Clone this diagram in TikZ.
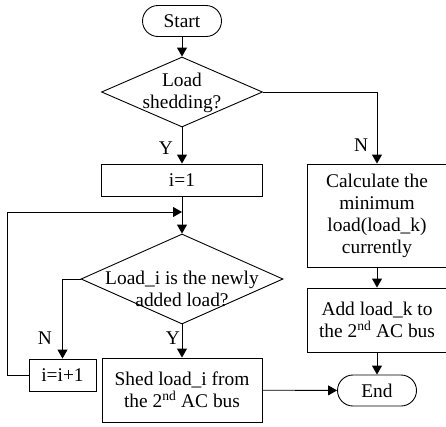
\documentclass[tikz,border=0pt]{standalone}
\usepackage{fontspec}
\setmainfont{Liberation Serif}
\usetikzlibrary{arrows.meta,shapes.geometric}
\begin{document}
\begin{tikzpicture}[x=1pt,y=-1pt,
  every node/.style={font=\fontsize{19.4}{22}\selectfont, inner sep=0pt},
  box/.style={draw, line width=0.9pt, align=center, rectangle},
  term/.style={draw, line width=0.9pt, rectangle, rounded corners=15.5pt, minimum width=79pt, minimum height=31pt},
  dia/.style={draw, line width=0.9pt, diamond},
  arr/.style={line width=0.9pt, -{Triangle[length=9pt,width=10pt]}},
  ln/.style={line width=0.9pt}]
\useasboundingbox (0,0) rectangle (446,426);

\node[term] (start) at (182,21) {Start};
\node[dia, minimum width=161pt, minimum height=70pt] (d1) at (182,92) {};
\node[align=center] (t1) at (182,92.5) {Load\\shedding?};
\node[box, minimum width=161pt, minimum height=32pt] (i1) at (182,180) {i=1};
\node[box, minimum width=139pt, minimum height=103pt] (calc) at (377,215.5) {Calculate the\\minimum\\load(load\_k)\\currently};
\node[box, minimum width=139pt, minimum height=64pt] (add) at (377,320) {Add load\_k to\\the 2\textsuperscript{nd} AC bus};
\node[term] (end) at (377,390.5) {End};
\node[dia, minimum width=202pt, minimum height=90pt] (d2) at (182,279) {};
\node[align=center] (t2) at (182,289) {Load\_i is the newly\\added load?};
\node[box, minimum width=67pt, minimum height=32pt] (inc) at (62.5,375) {i=i+1};
\node[box, minimum width=160pt, minimum height=64pt] (shed) at (182,390) {Shed load\_i from\\the 2\textsuperscript{nd} AC bus};
\coordinate (j) at (182,212);

\node (y1) at (166,148) {Y};
\node (n1) at (361,145) {N};
\node (n2) at (45,338) {N};
\node (y2) at (173,338) {Y};

\draw[arr] (start) -- (d1);
\draw[arr] (d1) -- (i1);
\draw[arr] (d1.east) -| (calc.north);
\draw[arr] (i1) -- (d2);
\draw[arr] (d2.west) -| (inc.north);
\draw[arr] (d2) -- (shed);
\draw[arr] (inc.west) -- ++(-21,0) |- (j);
\draw[arr] (shed) -- (end);
\draw[arr] (calc) -- (add);
\draw[arr] (add) -- (end);
\end{tikzpicture}
\end{document}
